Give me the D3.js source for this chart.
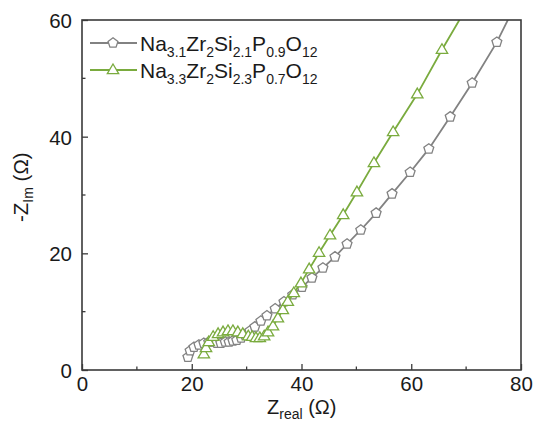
<!DOCTYPE html>
<html>
<head>
<meta charset="utf-8">
<script src="https://cdn.jsdelivr.net/npm/d3@7"></script>
<style>
body { margin: 0; background: #fff; }
text { font-family: "Liberation Sans", Arial, sans-serif; fill: #1a1a1a; }
</style>
</head>
<body>
<div id="chart"></div>
<script>
// Na3.1 sample (grey pentagons)
var zreal_a = [19.3, 19.7, 20.4, 21.3, 22.2, 23.1, 23.9, 24.6, 25.3, 26.1, 26.8, 27.5, 28.2, 29.0, 29.7, 30.6, 31.5, 32.6, 33.7, 35.2, 36.8, 38.4, 40.1, 41.9, 43.9, 46.1, 48.3, 50.8, 53.6, 56.5, 59.8, 63.2, 67.1, 71.1, 75.6, 79.4];
var zim_a   = [2.2, 3.3, 3.9, 4.3, 4.6, 4.8, 4.8, 4.6, 4.6, 4.8, 4.8, 5.0, 5.1, 5.5, 6.0, 6.7, 7.4, 8.4, 9.3, 10.5, 11.7, 12.9, 14.2, 15.8, 17.5, 19.4, 21.6, 24.0, 26.9, 30.2, 33.9, 37.9, 43.4, 49.2, 56.2, 63.4];
// Na3.3 sample (green triangles)
var zreal_b = [22.2, 22.6, 23.1, 23.9, 24.8, 25.7, 26.6, 27.5, 28.4, 29.3, 30.3, 31.0, 31.7, 32.4, 33.2, 33.9, 34.8, 35.7, 36.6, 37.5, 38.6, 39.9, 41.4, 43.2, 45.2, 47.6, 50.1, 53.2, 56.7, 61.1, 65.6, 70.7];
var zim_b   = [2.7, 3.8, 4.8, 5.7, 6.2, 6.5, 6.7, 6.7, 6.5, 6.2, 5.8, 5.7, 5.5, 5.5, 5.8, 6.5, 7.5, 8.9, 10.3, 11.7, 13.2, 14.9, 17.3, 20.1, 23.1, 26.6, 30.5, 35.5, 40.8, 47.3, 54.9, 63.1];

var xTicks = [0, 20, 40, 60, 80];
var xMinor = [10, 30, 50, 70];
var yTicks = [0, 20, 40, 60];
var yMinor = [10, 30, 50];

var W = 534, H = 437;
var margin = {left: 82, right: 13, top: 20, bottom: 67};
var grey = "#828282", green = "#7aab3e", frame = "#3a3a3a";

var svg = d3.select("#chart").append("svg")
    .attr("width", W).attr("height", H);

var x = d3.scaleLinear().domain([0, 80]).range([margin.left, W - margin.right]);
var y = d3.scaleLinear().domain([0, 60]).range([H - margin.bottom, margin.top]);

svg.append("defs").append("clipPath").attr("id", "clip")
  .append("rect")
    .attr("x", margin.left).attr("y", margin.top)
    .attr("width", W - margin.left - margin.right)
    .attr("height", H - margin.top - margin.bottom);

// pentagon and triangle paths
function pentagon(r) {
    var p = [];
    for (var i = 0; i < 5; i++) {
        var a = -Math.PI / 2 + i * 2 * Math.PI / 5;
        p.push([r * Math.cos(a), r * Math.sin(a)]);
    }
    return "M" + p.join("L") + "Z";
}
function triangle(r) {
    return "M0," + (-r) + "L" + (r * 0.95) + "," + (r * 0.62) + "L" + (-r * 0.95) + "," + (r * 0.62) + "Z";
}

var plot = svg.append("g").attr("clip-path", "url(#clip)");

function drawSeries(xs, ys, color, shape) {
    var pts = xs.map(function(v, i) { return [v, ys[i]]; });
    var line = d3.line().x(function(d) { return x(d[0]); }).y(function(d) { return y(d[1]); });
    plot.append("path").datum(pts)
        .attr("d", line)
        .attr("fill", "none")
        .attr("stroke", color)
        .attr("stroke-width", 1.8);
    plot.selectAll(null).data(pts).enter().append("path")
        .attr("transform", function(d) { return "translate(" + x(d[0]) + "," + y(d[1]) + ")"; })
        .attr("d", shape)
        .attr("fill", "#fff")
        .attr("stroke", color)
        .attr("stroke-width", 1.3);
}
drawSeries(zreal_a, zim_a, grey, pentagon(5.2));
drawSeries(zreal_b, zim_b, green, triangle(6));

// frame
svg.append("rect")
    .attr("x", margin.left).attr("y", margin.top)
    .attr("width", W - margin.left - margin.right)
    .attr("height", H - margin.top - margin.bottom)
    .attr("fill", "none").attr("stroke", frame).attr("stroke-width", 1.6);

// axes, ticks inward
var xAxis = d3.axisBottom(x).tickValues(xTicks).tickSizeInner(-6).tickSizeOuter(0).tickPadding(4);
var gx = svg.append("g").attr("transform", "translate(0," + (H - margin.bottom) + ")").call(xAxis);
xMinor.forEach(function(v) {
    gx.append("line").attr("x1", x(v)).attr("x2", x(v)).attr("y1", 0).attr("y2", -3.5)
        .attr("stroke", frame).attr("stroke-width", 1.3);
});
var yAxis = d3.axisLeft(y).tickValues(yTicks).tickSizeInner(-6).tickSizeOuter(0).tickPadding(10);
var gy = svg.append("g").attr("transform", "translate(" + margin.left + ",0)").call(yAxis);
yMinor.forEach(function(v) {
    gy.append("line").attr("y1", y(v)).attr("y2", y(v)).attr("x1", 0).attr("x2", 3.5)
        .attr("stroke", frame).attr("stroke-width", 1.3);
});
[gx, gy].forEach(function(g) {
    g.select(".domain").remove();
    g.selectAll(".tick line").attr("stroke", frame).attr("stroke-width", 1.3);
    g.selectAll(".tick text").style("font-size", "20.5px").attr("fill", "#1a1a1a");
});
gx.selectAll(".tick text").attr("y", 0).attr("dy", 21);
gy.selectAll(".tick text").attr("dy", "0.36em");

// axis titles
var xt = svg.append("text").attr("x", 267).attr("y", 414).style("font-size", "20px");
xt.append("tspan").text("Z");
xt.append("tspan").attr("dy", 5).style("font-size", "14px").text("real");
xt.append("tspan").attr("dy", -5).text(" (\u03A9)");

var yt = svg.append("text").attr("transform", "translate(28,222) rotate(-90)").style("font-size", "20.5px");
yt.append("tspan").text("-Z");
yt.append("tspan").attr("dy", 5).style("font-size", "14px").text("Im");
yt.append("tspan").attr("dy", -5).text(" (\u03A9)");

// legend
var legend = [
    {color: grey, shape: pentagon(5.2), y: 43, parts: [["Na", 0], ["3.1", 1], ["Zr", 0], ["2", 1], ["Si", 0], ["2.1", 1], ["P", 0], ["0.9", 1], ["O", 0], ["12", 1]]},
    {color: green, shape: triangle(6), y: 70, parts: [["Na", 0], ["3.3", 1], ["Zr", 0], ["2", 1], ["Si", 0], ["2.3", 1], ["P", 0], ["0.7", 1], ["O", 0], ["12", 1]]}
];
legend.forEach(function(l) {
    svg.append("line").attr("x1", 90).attr("x2", 137).attr("y1", l.y).attr("y2", l.y)
        .attr("stroke", l.color).attr("stroke-width", 1.8);
    svg.append("path").attr("transform", "translate(113," + l.y + ")").attr("d", l.shape)
        .attr("fill", "#fff").attr("stroke", l.color).attr("stroke-width", 1.3);
    var t = svg.append("text").attr("x", 140).attr("y", l.y + 8).style("font-size", "21px");
    var prev = 0;
    l.parts.forEach(function(p) {
        var dy = (p[1] - prev) * 6;
        prev = p[1];
        t.append("tspan").attr("dy", dy).style("font-size", p[1] ? "14px" : "21px").text(p[0]);
    });
});
</script>
</body>
</html>
